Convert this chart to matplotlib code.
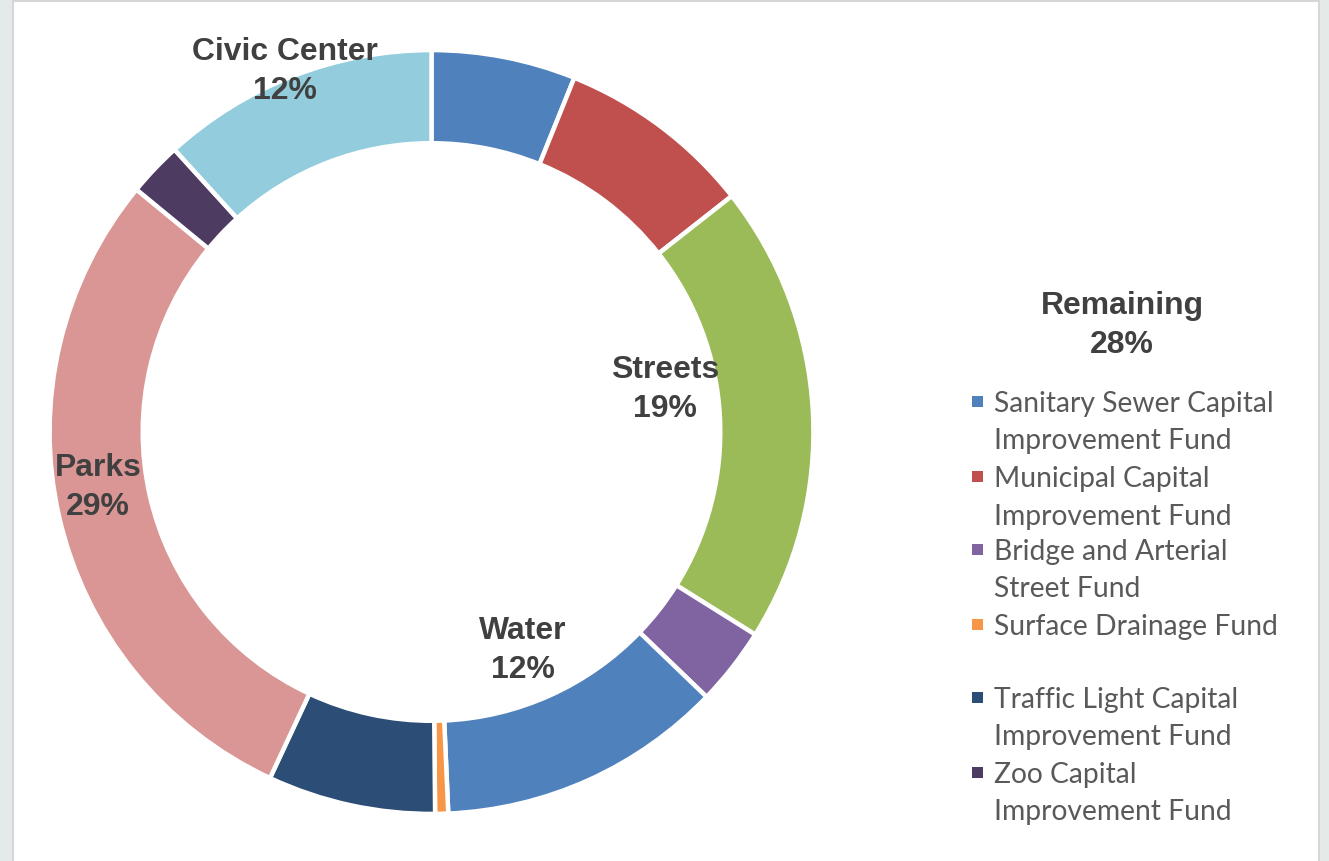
import matplotlib
matplotlib.use("Agg")
import matplotlib.pyplot as plt
from matplotlib.patches import Rectangle

# ---- data ----
funds = ["Sanitary Sewer Capital Improvement Fund", "Municipal Capital Improvement Fund",
         "Streets", "Bridge and Arterial Street Fund", "Water", "Surface Drainage Fund",
         "Traffic Light Capital Improvement Fund", "Parks", "Zoo Capital Improvement Fund",
         "Civic Center"]
shares = [6.1, 8.3, 19.5, 3.3, 12.1, 0.55, 7.1, 29.0, 2.3, 11.75]
colors = ["#4F81BD", "#C0504D", "#9BBB59", "#8064A2", "#4F81BD", "#F79646",
          "#2C4D75", "#D99694", "#4D3B62", "#93CDDD"]

# labelled groups (name, percent text, centre px)
group_labels = ["Civic Center", "Streets", "Water", "Parks", "Remaining"]
group_pcts = ["12%", "19%", "12%", "29%", "28%"]
group_pos = [(285, 49), (665, 367), (523, 628), (98, 465), (1122, 303)]

# legend (the "Remaining" funds), two-line labels, blank row after Surface Drainage
legend_items = [
    ("Sanitary Sewer Capital", "Improvement Fund", 0),
    ("Municipal Capital", "Improvement Fund", 1),
    ("Bridge and Arterial", "Street Fund", 3),
    ("Surface Drainage Fund", None, 5),
    ("Traffic Light Capital", "Improvement Fund", 6),
    ("Zoo Capital", "Improvement Fund", 8),
]
legend_rows = [402, 477, 550, 625, 698, 773]

W, H = 1329, 862
fig = plt.figure(figsize=(W / 100, H / 100), dpi=100)
fig.patch.set_facecolor("#E4EAEA")

# white chart panel with light border
panel = Rectangle((12.5 / W, -0.05), (1318.5 - 12.5) / W, 1.05 - 1.5 / H,
                  transform=fig.transFigure, facecolor="white",
                  edgecolor="#D6D6D6", linewidth=1.5, zorder=-5)
fig.patches.append(panel)

cx, cy, R = 431.5, 433, 380
ax = fig.add_axes([(cx - R) / W, (H - cy - R) / H, 2 * R / W, 2 * R / H])
ax.set_zorder(1)
ax.pie(shares, colors=colors, startangle=90, counterclock=False, radius=1.005,
       wedgeprops=dict(width=0.245, edgecolor="white", linewidth=3.2))
ax.set_xlim(-1, 1)
ax.set_ylim(-1, 1)
ax.set_aspect("equal")
ax.axis("off")

renderer = fig.canvas.get_renderer()

def fit_size(text, family, weight, target_px, base=20):
    t = fig.text(0, 0, text, fontsize=base, family=family, fontweight=weight)
    w = t.get_window_extent(renderer).width
    t.remove()
    return base * target_px / w

bold_fam = "Liberation Sans"
bsize = fit_size("Civic Center", bold_fam, "bold", 186)
lab_color = "#404040"
for name, pct, (px, py) in zip(group_labels, group_pcts, group_pos):
    fig.text(px / W, 1 - (py + 3) / H, name, ha="center", va="center", fontsize=bsize,
             family=bold_fam, fontweight="bold", color=lab_color, zorder=3)
    fig.text(px / W, 1 - (py + 42) / H, pct, ha="center", va="center", fontsize=bsize,
             family=bold_fam, fontweight="bold", color=lab_color, zorder=3)

leg_fam = "Lato"
lsize = fit_size("Sanitary Sewer Capital", leg_fam, "normal", 280)
leg_color = "#595959"
for (l1, l2, ci), ry in zip(legend_items, legend_rows):
    sq = Rectangle((972 / W, 1 - (ry + 5.5) / H), 11 / W, 11 / H,
                   transform=fig.transFigure, facecolor=colors[ci], edgecolor="none",
                   zorder=2)
    fig.patches.append(sq)
    fig.text(994 / W, 1 - (ry + 2.5) / H, l1, ha="left", va="center", fontsize=lsize,
             family=leg_fam, color=leg_color, zorder=3)
    if l2:
        fig.text(994 / W, 1 - (ry + 39.5) / H, l2, ha="left", va="center", fontsize=lsize,
                 family=leg_fam, color=leg_color, zorder=3)

fig.savefig("out.png", dpi=100, facecolor=fig.get_facecolor())
